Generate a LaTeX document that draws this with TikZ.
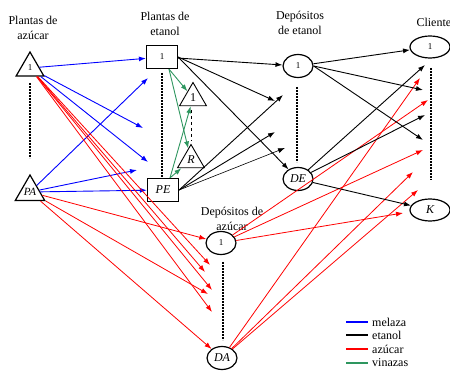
\documentclass[tikz,border=0pt]{standalone}
\usepackage{fontspec}
\setmainfont{Liberation Serif}
\usepackage{tikz}
\usetikzlibrary{arrows.meta,shapes.geometric,positioning}
\definecolor{vinaza}{RGB}{46,150,95}
\tikzstyle{planta}=[regular polygon,regular polygon sides=3,draw,line width=1.2pt,minimum size=32pt,inner sep=0pt,font=\fontsize{11}{12}\selectfont]
\tikzstyle{smallplanta}=[regular polygon,regular polygon sides=3,draw,line width=0.9pt,minimum size=31pt,inner sep=0pt,font=\fontsize{12}{12}\selectfont]
\tikzstyle{caja}=[rectangle,draw,line width=1.2pt,minimum width=31pt,minimum height=23pt,inner sep=0pt,font=\fontsize{12}{12}\selectfont]
\tikzstyle{deposito}=[ellipse,draw,line width=1.2pt,minimum width=30pt,minimum height=23pt,inner sep=0pt,font=\fontsize{12}{12}\selectfont]
\tikzstyle{cliente}=[ellipse,draw,line width=1.2pt,minimum width=40pt,minimum height=22pt,inner sep=0pt,font=\fontsize{12}{12}\selectfont]
\tikzstyle{melaza} = [draw,blue,line width=0.9pt,->]
\tikzstyle{etanol} = [draw,black,line width=0.9pt,->]
\tikzstyle{azucar} = [draw,red,line width=0.8pt,->]
\tikzstyle{vinazas} = [draw,vinaza,line width=0.9pt,->]
\tikzstyle{puntos} = [draw,dash pattern=on 2pt off 1pt,line width=1.4pt]
\tikzstyle{clave} = [line width=1.3pt]
\tikzset{titulo/.style={align=center,font=\fontsize{12}{15}\selectfont}}
\newcommand{\uno}{{\fontsize{9}{9}\selectfont 1}}

\begin{document}
\begin{tikzpicture}[x=1pt,y=-1pt,>={Latex[length=7pt,width=5pt]}]
\useasboundingbox (0,0) rectangle (450,371);

 %titulos
 \node[titulo] (t-pa) at (33,28) {Plantas de\\azúcar};
 \node[titulo] (t-pe) at (165,24) {Plantas de\\etanol};
 \node[titulo] (t-de) at (300,23) {Depósitos\\de etanol};
 \node[titulo,anchor=west] (t-c) at (413,22) {Cliente};
 \node[titulo] (t-da) at (232,219) {Depósitos de\\azúcar};

 %plantas de azucar y de etanol
   \foreach \x/\y/\name/\label in {30/68/pa1/\uno, 30/192/paN/{\itshape PA}}
          \node[planta] (\name) at (\x,\y) {\label};
   \foreach \x/\y/\name/\label in {162/57/pe1/\uno, 163/190/peN/{\itshape PE}}
          \node[caja] (\name) at (\x,\y) {\label};
   \foreach \x/\y/\name/\label in {193/98/r1/1, 191/160/rN/{\itshape R}}
          \node[smallplanta] (\name) at (\x,\y) {\label};

 %depositos y clientes
   \foreach \x/\y/\name/\label in {298/66/de1/\uno, 298/179/deN/{\itshape DE},
                                   221/243/da1/\uno, 222/358/daN/{\itshape DA}}
          \node[deposito] (\name) at (\x,\y) {\label};
   \foreach \x/\y/\name/\label in {430/47/c1/\uno, 430/210/cK/{\itshape K}}
          \node[cliente] (\name) at (\x,\y) {\label};

 %puntos suspensivos
 \draw[puntos] (30,83) -- (30,158);
 \draw[puntos] (162,73) -- (162,177);
 \draw[dashed,thick] (191,110) -- (191,141);
 \draw[puntos] (297,87) -- (297,162);
 \draw[puntos] (431,68) -- (431,180);
 \draw[puntos] (223,262) -- (223,340);

 %extremos libres
   \foreach \x/\y/\name in {143/128/pe-b, 148/162/pe-c, 148/78/pe-a, 137/170/pe-d,
                            275/101/de-a, 283/95/de-b, 275/132/de-c, 285/148/de-d,
                            423/90/c-a, 423/140/c-b, 425/65/c-c, 425/115/c-d,
                            210/265/da-a, 205/272/da-b, 212/290/da-c, 212/312/da-d, 208/294/da-e,
                            420/78/c-e, 428/100/c-f, 423/150/c-g, 413/172/c-h, 418/190/c-i, 403/213/c-j}
          \coordinate (\name) at (\x,\y);

 %melaza
  \foreach \source/ \dest in {pa1/pe1, pa1/pe-b, pa1/pe-c, paN/pe-a, paN/pe-d, paN/peN}
         \path[melaza] (\source) -- (\dest);

 %azucar
  \foreach \source/ \dest in {pa1/da-a, pa1/da-b, pa1/da-c, pa1/da-d, paN/da1, paN/da-e, paN/daN}
         \path[azucar] (\source) -- (\dest);
  \foreach \source/ \dest in {da1/c-f, da1/c-g, da1/c-j, daN/c-e, daN/c-h, daN/c-i}
         \path[azucar] (\source) -- (\dest);

 %vinazas
  \foreach \source/ \dest in {pe1.-60/r1, pe1.-60/rN, peN.60/r1, peN.60/rN}
         \path[vinazas] (\source) -- (\dest);

 %etanol
  \foreach \source/ \dest in {pe1/de1, pe1.east/de-a, pe1.east/deN, peN.east/de-b, peN.east/de-c}
         \path[etanol] (\source) -- (\dest);
  \path[etanol,line width=0.6pt] (peN.east) -- (de-d);
  \foreach \source/ \dest in {de1/c1, de1.east/c-a, de1.east/c-b, deN/c-c, deN/c-d, deN/cK}
         \path[etanol] (\source) -- (\dest);

 %leyenda
  \draw[clave,blue] (346,322) -- (368,322);
  \draw[clave,black] (346,335) -- (368,335);
  \draw[clave,red] (346,349) -- (368,349);
  \draw[clave,vinaza] (346,363) -- (368,363);
  \foreach \y/\nombre [count=\i] in {322/melaza, 335/etanol, 349/azúcar, 363/vinazas}
    \node[anchor=west,inner sep=0pt,font=\fontsize{12}{14}\selectfont] (ley\i) at (372,\y) {\nombre};

\end{tikzpicture}
\end{document}
